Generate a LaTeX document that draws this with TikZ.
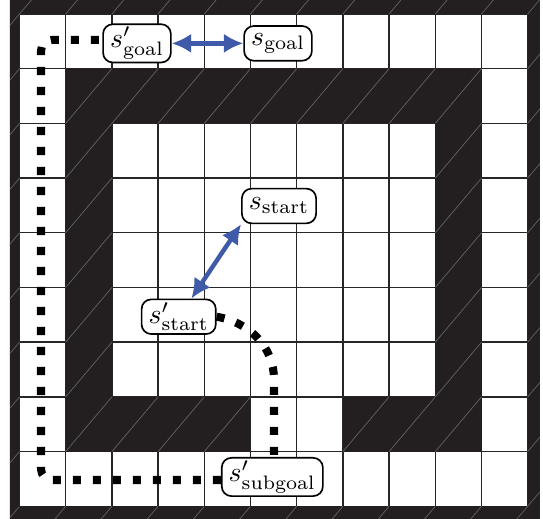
\documentclass[tikz,border=0pt]{standalone}
\usepackage{amsmath, amssymb}
\usepackage{xcolor}
\usepackage{tikz}
\usetikzlibrary{arrows.meta}
\definecolor{wallgray}{HTML}{231F20}
\definecolor{swapblue}{HTML}{3E5AA8}
\tikzset{
    wall/.style={fill=wallgray},
    hatch/.style={draw=gray!70!wallgray, line width=0.25pt},
    gridline/.style={draw=black!85, line width=0.5pt},
    state/.style={rectangle, rounded corners=3.5pt, draw=black, line width=0.6pt, fill=white, inner xsep=2.5pt, inner ysep=1pt, minimum height=12.5pt, text centered},
    route/.style={line width=2.9pt, dash pattern=on 2.9pt off 4.3pt, black},
    swap/.style={line width=1.6pt, swapblue, {Latex[length=7pt,width=7pt]}-{Latex[length=7pt,width=7pt]}}
}
\newcommand{\wallcell}[2]{\fill[wall] (#1,{8-(#2)}) rectangle ++(1,1); \draw[hatch] (#1,{8-(#2)}) -- ++(1,1);}

\begin{document}
\begin{tikzpicture}[x=16.632pt, y=19.692pt]
    \useasboundingbox (-0.422,-0.219) rectangle (11.331,9.256);
    \begin{scope}
        \clip (-0.206,-0.219) rectangle (11.266,9.256);
        \foreach \c in {0,...,11} {\draw[gridline] (\c,0) -- (\c,9);}
        \foreach \r in {0,...,9} {\draw[gridline] (0,\r) -- (11,\r);}
        % outer frame
        \foreach \r in {-1,9} \foreach \c in {-1,...,11} {\wallcell{\c}{\r}}
        \foreach \c in {-1,11} \foreach \r in {0,...,8} {\wallcell{\c}{\r}}
        % inner walls
        \foreach \c in {1,...,9} {\wallcell{\c}{1}}
        \foreach \r in {2,...,6} \foreach \c in {1,9} {\wallcell{\c}{\r}}
        \foreach \c in {1,2,3,4,7,8,9} {\wallcell{\c}{7}}
    \end{scope}

    \node (sgp) [state] at (2.543,8.463) {$s'_{\text{goal}}$};
    \node (sg) [state] at (5.595,8.463) {$s_{\text{goal}}$};
    \node (ss) [state] at (5.617,5.490) {$s_{\text{start}}$};
    \node (ssp) [state] at (3.446,3.466) {$s'_{\text{start}}$};
    \node (sub) [state] at (5.472,0.536) {$s'_{\text{subgoal}}$};

    \coordinate (bend) at (5.509,2.31);
    \coordinate (lowturn) at (0.465,0.481);
    \coordinate (topturn) at (0.465,8.525);

    \draw [route] (ssp.east) to[out=-10,in=90] (bend) -- (bend |- sub.north);
    \draw [route, rounded corners=4pt] (sub.west |- lowturn) -- (lowturn) -- (topturn) -- (topturn -| sgp.west);

    \draw [swap] (sgp) -- (sg);
    \draw [swap] (ss.south west) -- (ssp.55);
\end{tikzpicture}
\end{document}
